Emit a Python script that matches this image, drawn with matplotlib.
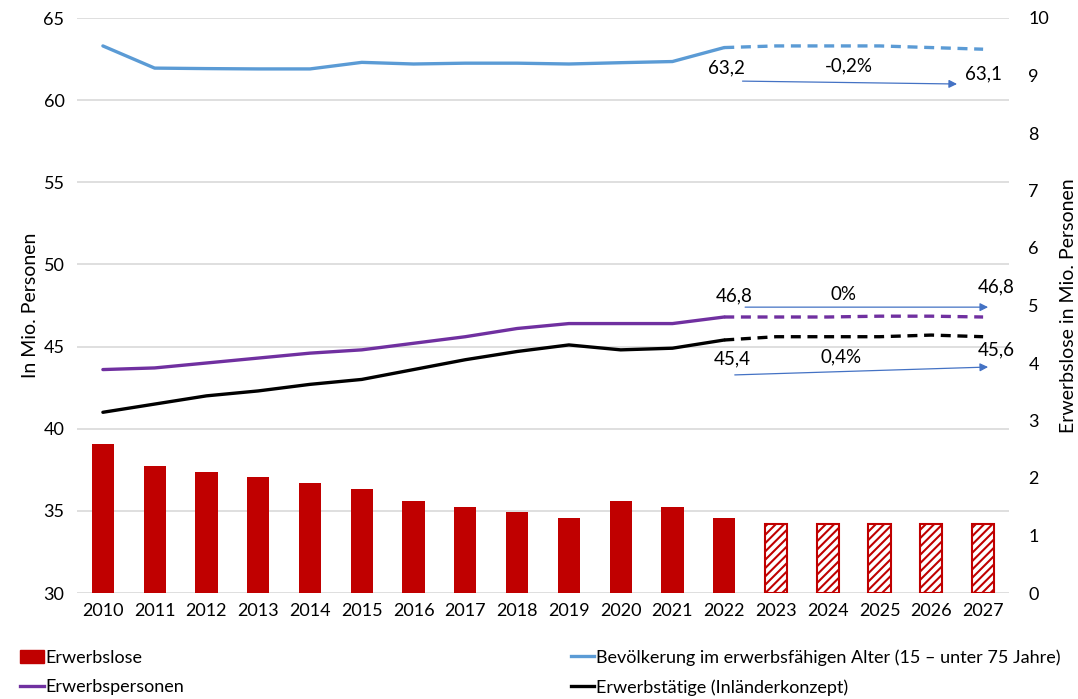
import matplotlib.pyplot as plt
from matplotlib.lines import Line2D
from matplotlib.patches import Patch
import numpy as np

plt.rcParams['font.family'] = ['Lato', 'DejaVu Sans']
plt.rcParams['hatch.linewidth'] = 1.5

# data
years = [str(y) for y in range(2010, 2028)]
erwerbslose = [2.60, 2.21, 2.11, 2.01, 1.91, 1.81, 1.60, 1.50, 1.41, 1.30,
               1.60, 1.50, 1.30, 1.20, 1.20, 1.20, 1.20, 1.20]
bevoelkerung = [63.3, 61.95, 61.92, 61.9, 61.9, 62.3, 62.2, 62.25, 62.25, 62.2,
                62.28, 62.35, 63.2, 63.3, 63.3, 63.3, 63.2, 63.1]
erwerbspersonen = [43.6, 43.7, 44.0, 44.3, 44.6, 44.8, 45.2, 45.6, 46.1, 46.4,
                   46.4, 46.4, 46.8, 46.8, 46.8, 46.85, 46.85, 46.8]
erwerbstaetige = [41.0, 41.5, 42.0, 42.3, 42.7, 43.0, 43.6, 44.2, 44.7, 45.1,
                  44.8, 44.9, 45.4, 45.6, 45.6, 45.6, 45.7, 45.6]
n_actual = 13  # 2010-2022 actual, afterwards projection

red = '#C00000'
blue = '#5B9BD5'
purple = '#7030A0'
arrow_col = '#4472C4'

fig = plt.figure(figsize=(10.78, 6.99), dpi=100)
ax = fig.add_axes([77/1078, 106/699, 932/1078, 575/699])  # left axis + grid
ax2 = ax.twinx()  # bars, right axis
ax3 = ax.twinx()  # lines, same scale as left axis

x = np.arange(len(years))

# bars on right axis
ax2.bar(x[:n_actual], erwerbslose[:n_actual], width=0.43, color=red)
ax2.bar(x[n_actual:], erwerbslose[n_actual:], width=0.43, facecolor='white',
        edgecolor=red, hatch='////', linewidth=1.5)

lw = 2.4
for vals, col in [(bevoelkerung, blue), (erwerbspersonen, purple), (erwerbstaetige, 'black')]:
    ax3.plot(x[:n_actual], vals[:n_actual], color=col, lw=lw, solid_capstyle='round')
    ax3.plot(x[n_actual-1:], vals[n_actual-1:], color=col, lw=lw, ls=(0, (3, 2)))

for a in (ax, ax3):
    a.set_ylim(30, 65)
ax.set_yticks(range(30, 66, 5))
ax3.set_yticks([])
ax2.set_ylim(0, 10)
ax2.set_yticks(range(0, 11))
ax.set_xlim(-0.5, 17.5)
ax.set_xticks(x)
ax.set_xticklabels(years)

ax.grid(axis='y', color='#D9D9D9', lw=1.2)
for a in (ax, ax2, ax3):
    for s in a.spines.values():
        s.set_visible(False)
    a.tick_params(length=0, labelsize=13, colors='#000000')
ax.tick_params(axis='x', pad=7)
ax.tick_params(axis='y', pad=9)
ax2.tick_params(axis='y', pad=14)

ax.set_ylabel('In Mio. Personen', fontsize=14, labelpad=3)
ax2.set_ylabel('Erwerbslose in Mio. Personen', fontsize=14, labelpad=8)

# annotations
fs = 13.5
arrow_kw = dict(arrowstyle='-|>', color=arrow_col, lw=0.9, mutation_scale=12)
ax3.text(12.05, 61.95, '63,2', ha='center', va='center', fontsize=fs)
ax3.text(14.4, 62.07, '-0,2%', ha='center', va='center', fontsize=fs)
ax3.text(17.0, 61.6, '63,1', ha='center', va='center', fontsize=fs)
ax3.annotate('', xy=(16.55, 60.98), xytext=(12.3, 61.16), arrowprops=arrow_kw)

ax3.text(12.2, 48.08, '46,8', ha='center', va='center', fontsize=fs)
ax3.text(14.3, 48.2, '0%', ha='center', va='center', fontsize=fs)
ax3.text(17.25, 48.62, '46,8', ha='center', va='center', fontsize=fs)
ax3.annotate('', xy=(17.15, 47.4), xytext=(12.35, 47.4), arrowprops=arrow_kw)

ax3.text(12.15, 44.24, '45,4', ha='center', va='center', fontsize=fs)
ax3.text(14.25, 44.36, '0,4%', ha='center', va='center', fontsize=fs)
ax3.text(17.25, 44.79, '45,6', ha='center', va='center', fontsize=fs)
ax3.annotate('', xy=(17.15, 43.76), xytext=(12.15, 43.27), arrowprops=arrow_kw)

# legend
h_bar = Patch(facecolor=red, edgecolor=red)
h_blue = Line2D([], [], color=blue, lw=2.4)
h_purple = Line2D([], [], color=purple, lw=2.4)
h_black = Line2D([], [], color='black', lw=2.4)
leg_kw = dict(frameon=False, fontsize=13, handlelength=1.3, handletextpad=0.1,
              labelspacing=0.75, borderaxespad=0, loc='center left')
fig.legend([h_bar, h_purple], ['Erwerbslose', 'Erwerbspersonen'],
           bbox_to_anchor=(0.012, 0.038), **leg_kw)
fig.legend([h_blue, h_black],
           ['Bevölkerung im erwerbsfähigen Alter (15 – unter 75 Jahre)',
            'Erwerbstätige (Inländerkonzept)'],
           bbox_to_anchor=(0.523, 0.038), **leg_kw)

fig.savefig('out.png', dpi=100)
